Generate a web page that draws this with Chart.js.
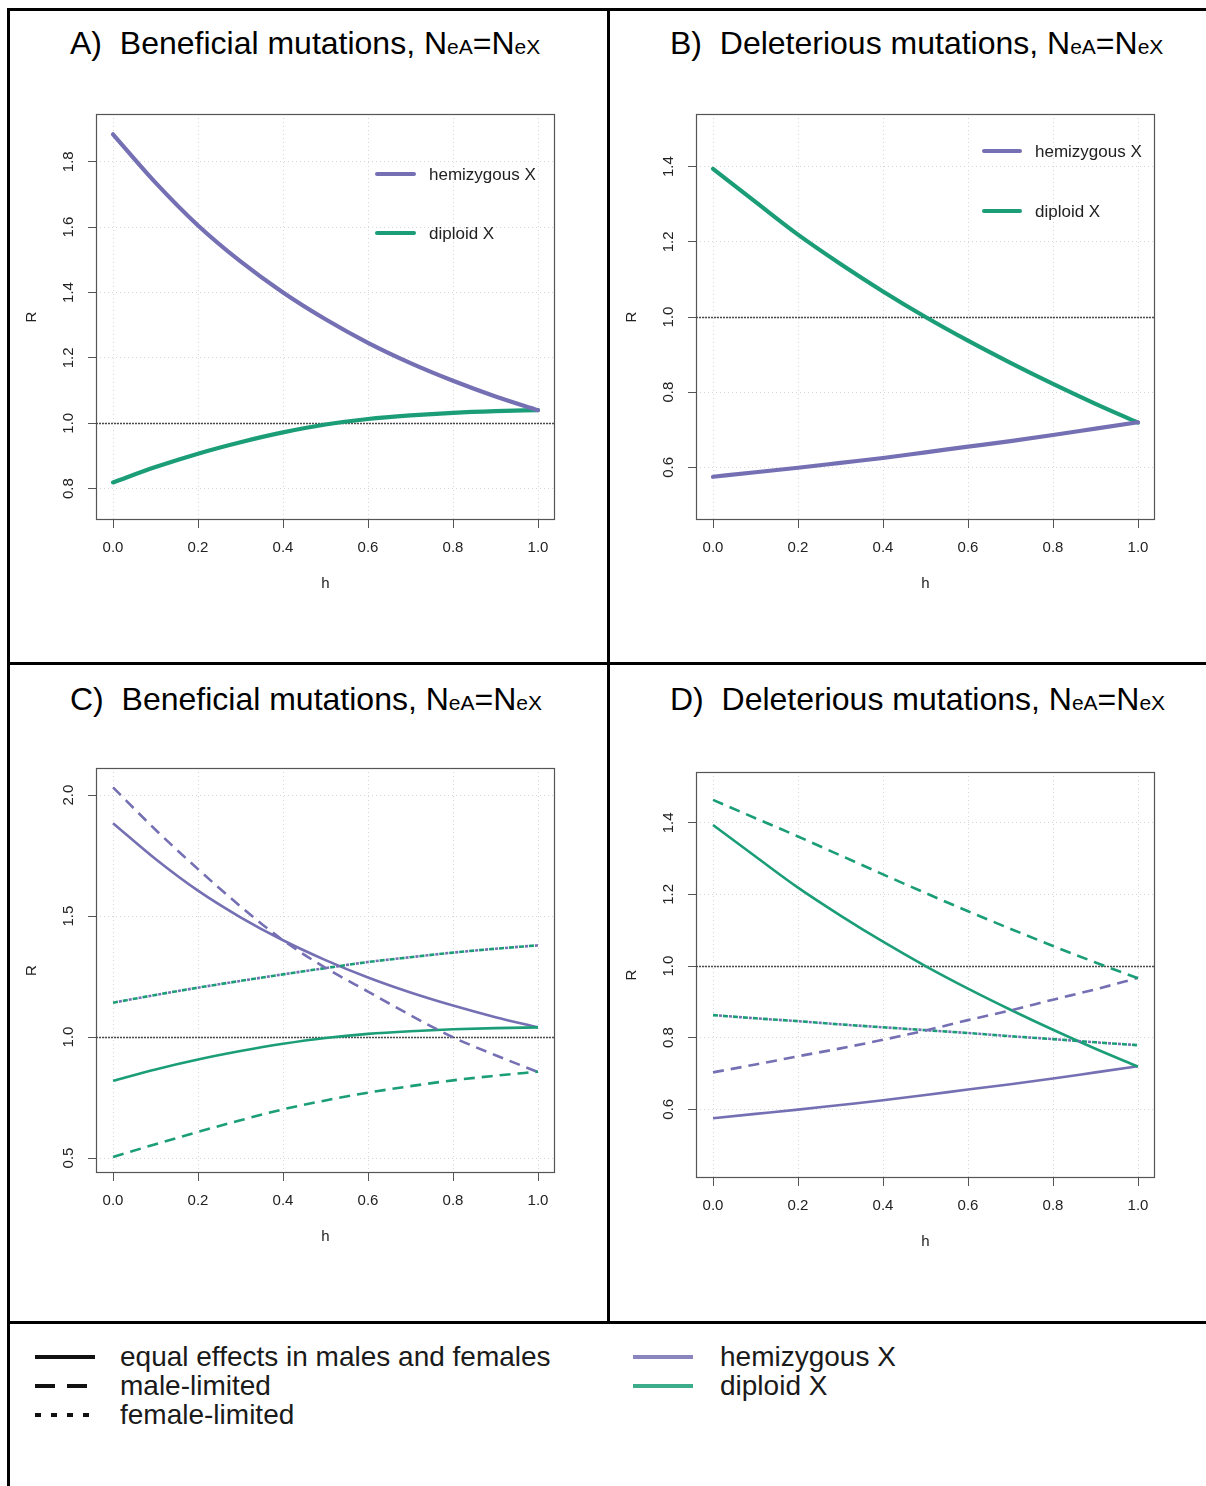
<!DOCTYPE html>
<html><head><meta charset="utf-8">
<script src="https://cdn.jsdelivr.net/npm/chart.js@4.4.1/dist/chart.umd.min.js"></script>
<style>
html,body{margin:0;padding:0;background:#fff;width:1206px;height:1486px;overflow:hidden;font-family:'Liberation Sans',Arial,sans-serif;}
.rule{position:absolute;background:#000;z-index:10;}
canvas{position:absolute;}
.title{position:absolute;font-size:32px;color:#000;white-space:pre;line-height:1;z-index:5;}
.title .s{font-size:21px;}
.leg{position:absolute;font-size:28px;color:#1a1a1a;white-space:pre;line-height:1;z-index:5;}
.sw{position:absolute;height:4px;z-index:5;}
</style></head><body>
<script>
// ---------------- DATA ----------------
const hValues = [0.0, 0.1, 0.2, 0.3, 0.4, 0.5, 0.6, 0.7, 0.8, 0.9, 1.0];

// Beneficial mutations (panels A and C)
const benHemiEqual  = [1.884, 1.736, 1.605, 1.495, 1.400, 1.318, 1.246, 1.184, 1.130, 1.082, 1.040];
const benDiplEqual  = [0.819, 0.866, 0.907, 0.942, 0.972, 0.996, 1.013, 1.024, 1.032, 1.037, 1.040];
const benHemiMale   = [2.032, 1.857, 1.694, 1.540, 1.400, 1.286, 1.188, 1.090, 0.999, 0.925, 0.855];
const benDiplMale   = [0.504, 0.557, 0.608, 0.656, 0.701, 0.738, 0.770, 0.797, 0.821, 0.840, 0.857];
const benHemiFemale = [1.142, 1.174, 1.204, 1.232, 1.259, 1.285, 1.310, 1.330, 1.349, 1.365, 1.379];
const benDiplFemale = [1.142, 1.174, 1.204, 1.232, 1.259, 1.285, 1.310, 1.330, 1.349, 1.365, 1.379];

// Deleterious mutations (panels B and D)
const delHemiEqual  = [0.575, 0.587, 0.599, 0.612, 0.625, 0.640, 0.655, 0.670, 0.686, 0.703, 0.720];
const delDiplEqual  = [1.394, 1.306, 1.219, 1.141, 1.068, 1.000, 0.937, 0.878, 0.822, 0.769, 0.719];
const delHemiMale   = [0.703, 0.725, 0.748, 0.770, 0.794, 0.820, 0.849, 0.876, 0.906, 0.935, 0.967];
const delDiplMale   = [1.464, 1.413, 1.362, 1.309, 1.256, 1.204, 1.153, 1.104, 1.056, 1.010, 0.966];
const delHemiFemale = [0.863, 0.854, 0.846, 0.837, 0.829, 0.821, 0.813, 0.804, 0.796, 0.787, 0.779];
const delDiplFemale = [0.863, 0.854, 0.846, 0.837, 0.829, 0.821, 0.813, 0.804, 0.796, 0.787, 0.779];

const xTickValues = [0.0, 0.2, 0.4, 0.6, 0.8, 1.0];
const yTicksA = [0.8, 1.0, 1.2, 1.4, 1.6, 1.8];
const yTicksB = [0.6, 0.8, 1.0, 1.2, 1.4];
const yTicksC = [0.5, 1.0, 1.5, 2.0];
const yTicksD = [0.6, 0.8, 1.0, 1.2, 1.4];
const refValue = 1.0;

const seriesLabels = ['hemizygous X', 'diploid X'];
const effectLabels = ['equal effects in males and females', 'male-limited', 'female-limited'];
const titleLetters = ['A)', 'B)', 'C)', 'D)'];
const titleTexts = ['Beneficial mutations,', 'Deleterious mutations,', 'Beneficial mutations,', 'Deleterious mutations,'];
const xAxisTitle = 'h';
const yAxisTitle = 'R';

// ---------------- STYLE ----------------
const PURPLE = '#7570B3';
const GREEN = '#1B9E77';
const FONT = '"Liberation Sans", Arial, sans-serif';

function pts(arr) { return hValues.map((h, i) => ({ x: h, y: arr[i] })); }

function ds(arr, color, width, dash, offset, cap) {
  return { data: pts(arr), borderColor: color, borderWidth: width, borderDash: dash || [],
    borderDashOffset: offset || 0, borderCapStyle: cap || 'butt', fill: false, pointRadius: 0,
    cubicInterpolationMode: 'monotone' };
}

const PAD_L = 90, PAD_T = 40, PAD_R = 45, PAD_B = 80;

function makePanel(box, yMin, yMax, yTicks, datasets, legend) {
  const cv = document.createElement('canvas');
  const w = (box.r - box.l) + PAD_L + PAD_R;
  const h = (box.b - box.t) + PAD_T + PAD_B;
  cv.width = w; cv.height = h;
  cv.style.left = (box.l - PAD_L) + 'px';
  cv.style.top = (box.t - PAD_T) + 'px';
  cv.style.width = w + 'px'; cv.style.height = h + 'px';
  document.body.appendChild(cv);

  const deco = {
    id: 'deco',
    beforeDatasetsDraw(chart) {
      const { ctx, chartArea: a, scales: { y } } = chart;
      const py = Math.round(y.getPixelForValue(refValue)) + 0.5;
      ctx.save();
      ctx.strokeStyle = '#4a4a4a'; ctx.lineWidth = 1.3; ctx.setLineDash([2, 1]);
      ctx.beginPath(); ctx.moveTo(a.left, py); ctx.lineTo(a.right, py); ctx.stroke();
      ctx.restore();
    },
    afterDraw(chart) {
      const { ctx, chartArea: a, scales: { x, y } } = chart;
      ctx.save();
      ctx.strokeStyle = '#555'; ctx.lineWidth = 1.2; ctx.setLineDash([]);
      ctx.strokeRect(a.left + 0.5, a.top + 0.5, a.right - a.left - 1, a.bottom - a.top - 1);
      ctx.fillStyle = '#222';
      ctx.font = '15px ' + FONT;
      ctx.textAlign = 'center'; ctx.textBaseline = 'middle';
      xTickValues.forEach(v => ctx.fillText(v.toFixed(1), x.getPixelForValue(v), a.bottom + 28));
      yTicks.forEach(v => {
        ctx.save();
        ctx.translate(a.left - 27, y.getPixelForValue(v));
        ctx.rotate(-Math.PI / 2);
        ctx.fillText(v.toFixed(1), 0, 0);
        ctx.restore();
      });
      ctx.fillText(xAxisTitle, (a.left + a.right) / 2, a.bottom + 64);
      ctx.save();
      ctx.translate(a.left - 64, (a.top + a.bottom) / 2);
      ctx.rotate(-Math.PI / 2);
      ctx.fillText(yAxisTitle, 0, 0);
      ctx.restore();
      if (legend) {
        ctx.font = '17px ' + FONT;
        ctx.textAlign = 'left';
        legend.items.forEach((it, i) => {
          const ly = a.top + legend.dy + i * legend.gap;
          ctx.strokeStyle = it.color; ctx.lineWidth = 4; ctx.lineCap = 'round';
          ctx.beginPath(); ctx.moveTo(a.left + legend.x1, ly); ctx.lineTo(a.left + legend.x2, ly); ctx.stroke();
          ctx.fillStyle = '#222';
          ctx.fillText(it.label, a.left + legend.tx, ly + 1);
        });
      }
      ctx.restore();
    }
  };

  const gridOpts = { color: '#d6d6d6', lineWidth: 1, drawTicks: true, tickLength: 8,
    tickColor: '#555', tickWidth: 1, tickBorderDash: [] };

  return new Chart(cv.getContext('2d'), {
    type: 'line',
    data: { datasets },
    options: {
      responsive: false, animation: false, devicePixelRatio: 1,
      layout: { padding: { top: PAD_T, right: PAD_R, left: 0, bottom: 0 } },
      plugins: { legend: { display: false }, tooltip: { enabled: false } },
      scales: {
        x: { type: 'linear', min: -0.04, max: 1.04,
          afterBuildTicks: s => { s.ticks = xTickValues.map(v => ({ value: v })); },
          afterFit: s => { s.height = PAD_B; },
          ticks: { display: false }, grid: gridOpts, border: { display: false, dash: [1, 3] } },
        y: { type: 'linear', min: yMin, max: yMax,
          afterBuildTicks: s => { s.ticks = yTicks.map(v => ({ value: v })); },
          afterFit: s => { s.width = PAD_L; },
          ticks: { display: false }, grid: gridOpts, border: { display: false, dash: [1, 3] } }
      }
    },
    plugins: [deco]
  });
}

// Panel A
makePanel({ l: 96, t: 114, r: 555, b: 520 }, 0.704, 1.946, yTicksA, [
  ds(benHemiEqual, PURPLE, 4.2, null, 0, 'round'),
  ds(benDiplEqual, GREEN, 4.2, null, 0, 'round')
], { x1: 281, x2: 318, tx: 333, dy: 60, gap: 59,
     items: [{ label: seriesLabels[0], color: PURPLE }, { label: seriesLabels[1], color: GREEN }] });

// Panel B
makePanel({ l: 696, t: 114, r: 1155, b: 520 }, 0.46, 1.54, yTicksB, [
  ds(delHemiEqual, PURPLE, 4.2, null, 0, 'round'),
  ds(delDiplEqual, GREEN, 4.2, null, 0, 'round')
], { x1: 288, x2: 324, tx: 339, dy: 37, gap: 60,
     items: [{ label: seriesLabels[0], color: PURPLE }, { label: seriesLabels[1], color: GREEN }] });

// Panel C
makePanel({ l: 96, t: 768, r: 555, b: 1173 }, 0.438, 2.112, yTicksC, [
  ds(benDiplMale, GREEN, 2.6, [11, 7]),
  ds(benHemiMale, PURPLE, 2.6, [11, 7]),
  ds(benDiplFemale, GREEN, 2.6, [5, 5]),
  ds(benHemiFemale, PURPLE, 2.6, [3, 7], -6),
  ds(benDiplEqual, GREEN, 2.6),
  ds(benHemiEqual, PURPLE, 2.6)
], null);

// Panel D
makePanel({ l: 696, t: 772, r: 1155, b: 1178 }, 0.408, 1.542, yTicksD, [
  ds(delDiplMale, GREEN, 2.6, [11, 7]),
  ds(delHemiMale, PURPLE, 2.6, [11, 7]),
  ds(delDiplFemale, GREEN, 2.6, [5, 5]),
  ds(delHemiFemale, PURPLE, 2.6, [3, 7], -6),
  ds(delDiplEqual, GREEN, 2.6),
  ds(delHemiEqual, PURPLE, 2.6)
], null);

// ---------------- Frame, titles, shared legend ----------------
function addDiv(cls, style, html) {
  const d = document.createElement('div');
  d.className = cls; d.setAttribute('style', style);
  if (html !== undefined) d.innerHTML = html;
  document.body.appendChild(d);
  return d;
}
addDiv('rule', 'left:7px;top:8px;width:1199px;height:3px');
addDiv('rule', 'left:7px;top:662px;width:1199px;height:3px');
addDiv('rule', 'left:7px;top:1321px;width:1199px;height:3px');
addDiv('rule', 'left:7px;top:8px;width:3px;height:1478px');
addDiv('rule', 'left:607px;top:8px;width:3px;height:1316px');

const titlePos = [[70, 27], [670, 27], [70, 683], [670, 683]];
titleTexts.forEach((t, i) => {
  addDiv('title', `left:${titlePos[i][0]}px;top:${titlePos[i][1]}px`,
    `${titleLetters[i]}  ${t} N<span class="s">eA</span>=N<span class="s">eX</span>`);
});

// line-type legend
addDiv('sw', 'left:35px;top:1355px;width:60px;background:#111');
addDiv('sw', 'left:35px;top:1384px;width:20px;background:#111');
addDiv('sw', 'left:67px;top:1384px;width:20px;background:#111');
[35, 51, 67, 83].forEach(x => addDiv('sw', `left:${x}px;top:1413px;width:6px;background:#111`));
effectLabels.forEach((t, i) => addDiv('leg', `left:120px;top:${1343 + i * 29}px`, t));
// colour legend
addDiv('sw', `left:633px;top:1355px;width:60px;background:${PURPLE};opacity:0.85`);
addDiv('sw', `left:633px;top:1384px;width:60px;background:${GREEN};opacity:0.85`);
seriesLabels.forEach((t, i) => addDiv('leg', `left:720px;top:${1343 + i * 29}px`, t));
</script>
</body></html>
